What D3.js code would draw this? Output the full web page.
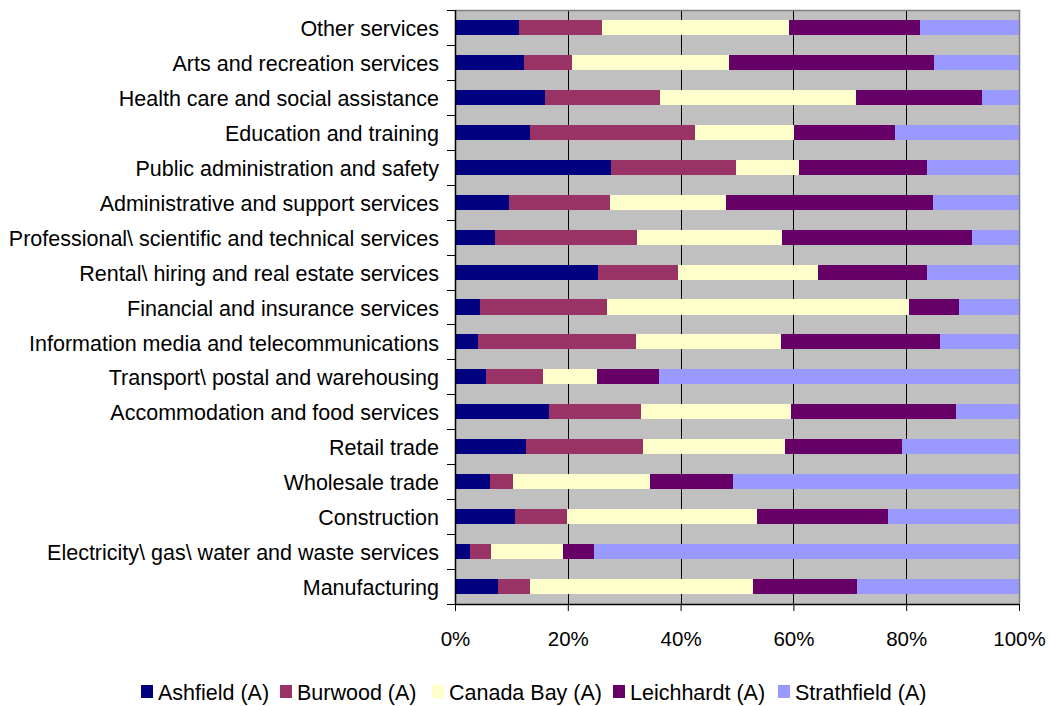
<!DOCTYPE html>
<html><head><meta charset="utf-8">
<script src="https://cdn.jsdelivr.net/npm/d3@7"></script>
<style>body{margin:0;background:#fff;} svg{display:block;}</style>
</head><body>
<script>
const categories = [
  "Other services","Arts and recreation services","Health care and social assistance",
  "Education and training","Public administration and safety","Administrative and support services",
  "Professional\\ scientific and technical services","Rental\\ hiring and real estate services",
  "Financial and insurance services","Information media and telecommunications",
  "Transport\\ postal and warehousing","Accommodation and food services","Retail trade",
  "Wholesale trade","Construction","Electricity\\ gas\\ water and waste services","Manufacturing"
];
const seriesNames = ["Ashfield (A)","Burwood (A)","Canada Bay (A)","Leichhardt (A)","Strathfield (A)"];
const ashfield    = [11.3,12.2,16.0,13.3,27.7, 9.6, 7.1,25.4, 4.4, 4.1, 5.5,16.7,12.6, 6.2,10.6, 2.7, 7.6];
const burwood     = [14.8, 8.5,20.3,29.3,22.1,17.9,25.2,14.1,22.6,28.0,10.1,16.3,20.7, 4.1, 9.3, 3.7, 5.7];
const canadaBay   = [33.1,27.9,34.8,17.5,11.2,20.5,25.7,24.9,53.5,25.7, 9.6,26.6,25.2,24.3,33.6,12.7,39.5];
const leichhardt  = [23.2,36.3,22.3,17.9,22.7,36.8,33.7,19.3, 8.9,28.2,11.0,29.2,20.8,14.7,23.3, 5.5,18.5];
const strathfield = [17.6,15.1, 6.6,22.0,16.3,15.2, 8.3,16.3,10.6,14.0,63.8,11.2,20.7,50.7,23.2,75.4,28.7];
const xTicks = [0,20,40,60,80,100];
const colors = ["#000080","#993366","#FFFFCC","#660066","#9999FF"];

const W=1052,H=706;
const m={left:455,top:10,right:1019,bottom:604};
const FONT="Liberation Sans, Arial, sans-serif";
const svg=d3.select("body").append("svg").attr("width",W).attr("height",H)
  .style("font-family",FONT);

const series=[ashfield,burwood,canadaBay,leichhardt,strathfield];
const rows=categories.map((c,i)=>{const r={cat:c};seriesNames.forEach((s,j)=>{r[s]=series[j][i];});return r;});
rows.forEach(r=>{const t=d3.sum(seriesNames,s=>r[s]);seriesNames.forEach(s=>r[s]=r[s]/t);});
const stack=d3.stack().keys(seriesNames)(rows);

const x=d3.scaleLinear().domain([0,1]).range([m.left,m.right]);
const y=d3.scaleBand().domain(categories).range([m.top,m.bottom]).paddingInner(0.57).paddingOuter(0.285);
const band=d3.scaleBand().domain(categories).range([m.top,m.bottom]);

svg.append("rect").attr("x",m.left).attr("y",m.top).attr("width",m.right-m.left).attr("height",m.bottom-m.top).attr("fill","#C0C0C0");

// gridlines
svg.append("g").selectAll("line").data(xTicks.slice(1,-1)).join("line")
  .attr("x1",d=>Math.round(x(d/100))+0.5).attr("x2",d=>Math.round(x(d/100))+0.5)
  .attr("y1",m.top).attr("y2",m.bottom).attr("stroke","#000").attr("stroke-width",1);

// bars
svg.append("g").selectAll("g").data(stack).join("g").attr("fill",(d,i)=>colors[i])
  .selectAll("rect").data(d=>d).join("rect")
  .attr("x",d=>x(d[0])).attr("width",d=>x(d[1])-x(d[0]))
  .attr("y",d=>y(d.data.cat)).attr("height",y.bandwidth())
  .attr("shape-rendering","crispEdges");

// border top/right
svg.append("path").attr("d",`M${m.left},${m.top+0.5}H${m.right+0.5}V${m.bottom}`).attr("fill","none").attr("stroke","#808080").attr("stroke-width",1.5);

// y axis
const yAxis=d3.axisLeft(band).tickSize(0).tickPadding(16);
const gy=svg.append("g").attr("transform",`translate(${m.left},0)`).call(yAxis);
gy.select(".domain").remove();
gy.selectAll("text").attr("font-size",21.5).attr("dy","0.4em").attr("fill","#000").attr("font-family",FONT);
svg.append("g").selectAll("line").data(d3.range(categories.length+1)).join("line")
  .attr("x1",m.left-8).attr("x2",m.left)
  .attr("y1",i=>Math.round(m.top+i*band.step())+0.5).attr("y2",i=>Math.round(m.top+i*band.step())+0.5)
  .attr("stroke","#000");
svg.append("line").attr("x1",m.left+0.5).attr("x2",m.left+0.5).attr("y1",m.top).attr("y2",m.bottom+1).attr("stroke","#000").attr("stroke-width",1.5);

// x axis
const xAxis=d3.axisBottom(x).tickValues(xTicks.map(d=>d/100)).tickFormat((d,i)=>xTicks[i]+"%").tickSize(7).tickPadding(20);
const gx=svg.append("g").attr("transform",`translate(0,${m.bottom})`).call(xAxis);
gx.select(".domain").attr("stroke","#000").attr("stroke-width",1.5).attr("d",`M${m.left},0.5H${m.right}`);
gx.selectAll(".tick line").attr("stroke","#000");
gx.selectAll("text").attr("font-size",20.5).attr("fill","#000").attr("font-family",FONT);

// legend
const legendX=[141,280,432,613,778];
const lg=svg.append("g").selectAll("g").data(seriesNames).join("g").attr("transform",(d,i)=>`translate(${legendX[i]},685)`);
lg.append("rect").attr("width",12).attr("height",13).attr("fill",(d,i)=>colors[i]);
lg.append("text").attr("x",17).attr("y",14.5).attr("font-size",21.5).attr("fill","#000").attr("font-family",FONT).text(d=>d);
</script>
</body></html>
